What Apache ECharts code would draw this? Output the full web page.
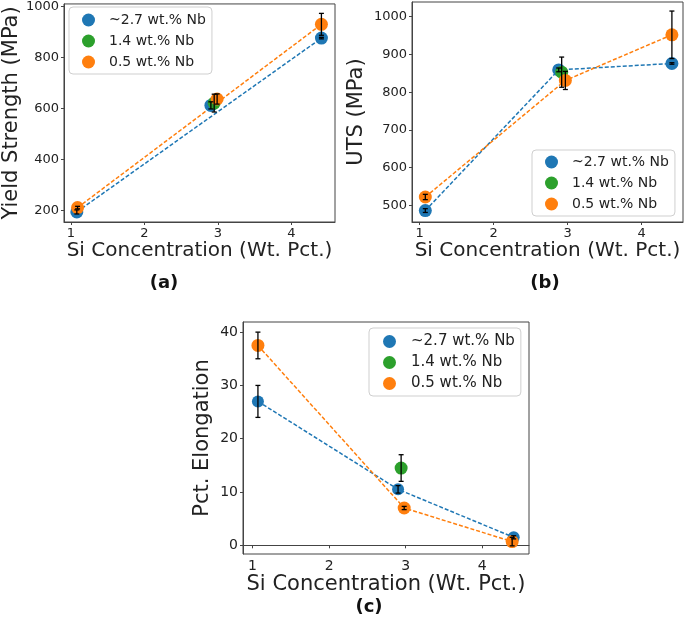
<!DOCTYPE html>
<html>
<head>
<meta charset="utf-8">
<script src="https://cdn.jsdelivr.net/npm/echarts@6/dist/echarts.min.js"></script>
<style>html,body{margin:0;padding:0;background:#fff}#c{width:685px;height:620px}</style>
</head>
<body>
<div id="c"></div>
<script>
// ---------- data ----------
const seriesNames = ['~2.7 wt.% Nb', '1.4 wt.% Nb', '0.5 wt.% Nb'];
const colors = ['#1f77b4', '#2ca02c', '#ff7f0e'];
const xTicks = [1, 2, 3, 4];

// (a) Yield strength [x, y, err]
const aBlue   = [[1.08, 194, 8], [2.905, 612, 14], [4.41, 876, 3]];
const aGreen  = [[2.95, 621, 35]];
const aOrange = [[1.09, 211, 5], [2.99, 637, 20], [4.41, 930, 43]];
const aBlueLine   = [[1.08, 194], [4.41, 876]];
const aOrangeLine = [[1.09, 211], [4.41, 930]];
const aYTicks = [200, 400, 600, 800, 1000];

// (b) UTS [x, y, err]
const bBlue   = [[1.077, 486, 5], [2.88, 859, 5], [4.41, 876, 2]];
const bGreen  = [[2.92, 853, 40]];
const bOrange = [[1.077, 522, 7], [2.97, 831, 24], [4.41, 952, 63]];
const bYTicks = [500, 600, 700, 800, 900, 1000];

// (c) Elongation [x, y, err]
const cBlue   = [[1.07, 27, 3], [2.90, 10.5, 0.7], [4.41, 1.5, 0.3]];
const cGreen  = [[2.94, 14.5, 2.5]];
const cOrange = [[1.07, 37.5, 2.5], [2.98, 7.0, 0.3], [4.39, 0.7, 0.8]];
const cYTicks = [0, 10, 20, 30, 40];

// ---------- helpers ----------
const FONT = 'DejaVu Sans';
const TXT = '#222';
const SPINE = '#444';
const plain = v => String(v);

function errRender(params, api) {
  const x = api.value(0), y = api.value(1), e = api.value(2);
  const t = api.coord([x, y + e]);
  const b = api.coord([x, y - e]);
  const cw = 2.5;
  const st = {stroke: '#000', lineWidth: 1.3};
  return {type: 'group', children: [
    {type: 'line', shape: {x1: t[0], y1: t[1], x2: b[0], y2: b[1]}, style: st},
    {type: 'line', shape: {x1: t[0] - cw, y1: t[1], x2: t[0] + cw, y2: t[1]}, style: st},
    {type: 'line', shape: {x1: b[0] - cw, y1: b[1], x2: b[0] + cw, y2: b[1]}, style: st}
  ]};
}

function xAx(idx, min, max, name, nameSize, labelSize, gap) {
  return {
    type: 'value', gridIndex: idx, min: min, max: max,
    name: name, nameLocation: 'middle', nameGap: gap,
    nameTextStyle: {fontFamily: FONT, fontSize: nameSize, color: TXT},
    axisLine: {show: true, lineStyle: {color: SPINE, width: 1}},
    axisTick: {show: true, length: 3, lineStyle: {color: SPINE}, customValues: xTicks},
    axisLabel: {fontFamily: FONT, fontSize: labelSize, color: TXT, margin: 5, customValues: xTicks, formatter: plain},
    splitLine: {show: false}
  };
}
function yAx(idx, min, max, ticks, name, nameSize, labelSize, gap) {
  return {
    type: 'value', gridIndex: idx, min: min, max: max,
    name: name, nameLocation: 'middle', nameGap: gap,
    nameTextStyle: {fontFamily: FONT, fontSize: nameSize, color: TXT},
    axisLine: {show: true, lineStyle: {color: SPINE, width: 1}},
    axisTick: {show: true, length: 3, lineStyle: {color: SPINE}, customValues: ticks},
    axisLabel: {fontFamily: FONT, fontSize: labelSize, color: TXT, margin: 5, customValues: ticks, formatter: plain},
    splitLine: {show: false}
  };
}
function lineS(idx, data, color) {
  return {
    type: 'line', name: 'line' + idx + color, xAxisIndex: idx, yAxisIndex: idx,
    data: data.map(d => [d[0], d[1]]), showSymbol: false, symbol: 'none', silent: true,
    lineStyle: {color: color, width: 1.5, type: [4, 2]}, z: 2
  };
}
function scatS(idx, nameIdx, data, size) {
  return {
    type: 'scatter', name: seriesNames[nameIdx], xAxisIndex: idx, yAxisIndex: idx,
    data: data.map(d => [d[0], d[1]]), symbolSize: size,
    itemStyle: {color: colors[nameIdx], opacity: 1}, z: 3 + nameIdx * 0.1
  };
}
function errS(idx, data) {
  return {
    type: 'custom', name: 'err' + idx, xAxisIndex: idx, yAxisIndex: idx,
    data: data, renderItem: errRender, silent: true, z: 5,
    encode: {x: 0, y: 1}
  };
}
function legendAt(left, top, pad, fontSize, gap, textPad) {
  return {
    left: left, top: top, orient: 'vertical', padding: pad,
    itemWidth: 13, itemHeight: 13, itemGap: gap,
    backgroundColor: 'rgba(255,255,255,0.85)', borderColor: '#cfcfcf', borderWidth: 1, borderRadius: 4,
    textStyle: {fontFamily: FONT, fontSize: fontSize, color: TXT, padding: [0, 0, 0, textPad]},
    data: seriesNames.map(n => ({name: n, icon: 'circle'})),
    selectedMode: false
  };
}
function subLabel(text, x, y) {
  return {type: 'text', style: {text: text, x: x, y: y, align: 'center', verticalAlign: 'middle',
    font: 'bold 18px "DejaVu Sans"', fill: '#111'}};
}

const option = {
  animation: false,
  backgroundColor: '#fff',
  grid: [
    {left: 62, top: 2, width: 273, height: 220, show: true, borderColor: SPINE, borderWidth: 1},
    {left: 412, top: 2, width: 271, height: 220, show: true, borderColor: SPINE, borderWidth: 1},
    {left: 243, top: 322, width: 286, height: 232, show: true, borderColor: SPINE, borderWidth: 1}
  ],
  xAxis: [
    xAx(0, 0.905, 4.595, 'Si Concentration (Wt. Pct.)', 20, 13, 19),
    xAx(1, 0.897, 4.56, 'Si Concentration (Wt. Pct.)', 20, 13, 19),
    xAx(2, 0.875, 4.61, 'Si Concentration (Wt. Pct.)', 21, 14, 18)
  ],
  yAxis: [
    yAx(0, 154.5, 1010, aYTicks, 'Yield Strength (MPa)', 21, 13, 36),
    yAx(1, 455.7, 1039, bYTicks, 'UTS (MPa)', 21, 13, 45),
    yAx(2, -1.63, 41.9, cYTicks, 'Pct. Elongation', 21, 14, 30)
  ],
  legend: [
    legendAt(69, 7, [6, 6, 5, 13], 14, 7, 9),
    legendAt(532, 150, [5, 6, 5, 13], 14, 7, 9),
    legendAt(369, 328, [6, 6, 5, 14], 15, 6, 10)
  ],
  graphic: [
    subLabel('(a)', 164, 283),
    subLabel('(b)', 545, 283),
    subLabel('(c)', 369, 607)
  ],
  series: [
    lineS(0, aBlueLine, colors[0]), lineS(0, aOrangeLine, colors[2]),
    scatS(0, 0, aBlue, 13), scatS(0, 1, aGreen, 13), scatS(0, 2, aOrange, 13),
    errS(0, aBlue.concat(aGreen, aOrange)),

    lineS(1, bBlue, colors[0]), lineS(1, bOrange, colors[2]),
    scatS(1, 0, bBlue, 13), scatS(1, 1, bGreen, 13), scatS(1, 2, bOrange, 13),
    errS(1, bBlue.concat(bGreen, bOrange)),

    lineS(2, cBlue, colors[0]), lineS(2, cOrange, colors[2]),
    scatS(2, 0, cBlue, 12), scatS(2, 1, cGreen, 13), scatS(2, 2, cOrange, 13),
    errS(2, cBlue.concat(cGreen, cOrange))
  ]
};

const chart = echarts.init(document.getElementById('c'), null, {renderer: 'canvas'});
chart.setOption(option);
</script>
</body>
</html>
